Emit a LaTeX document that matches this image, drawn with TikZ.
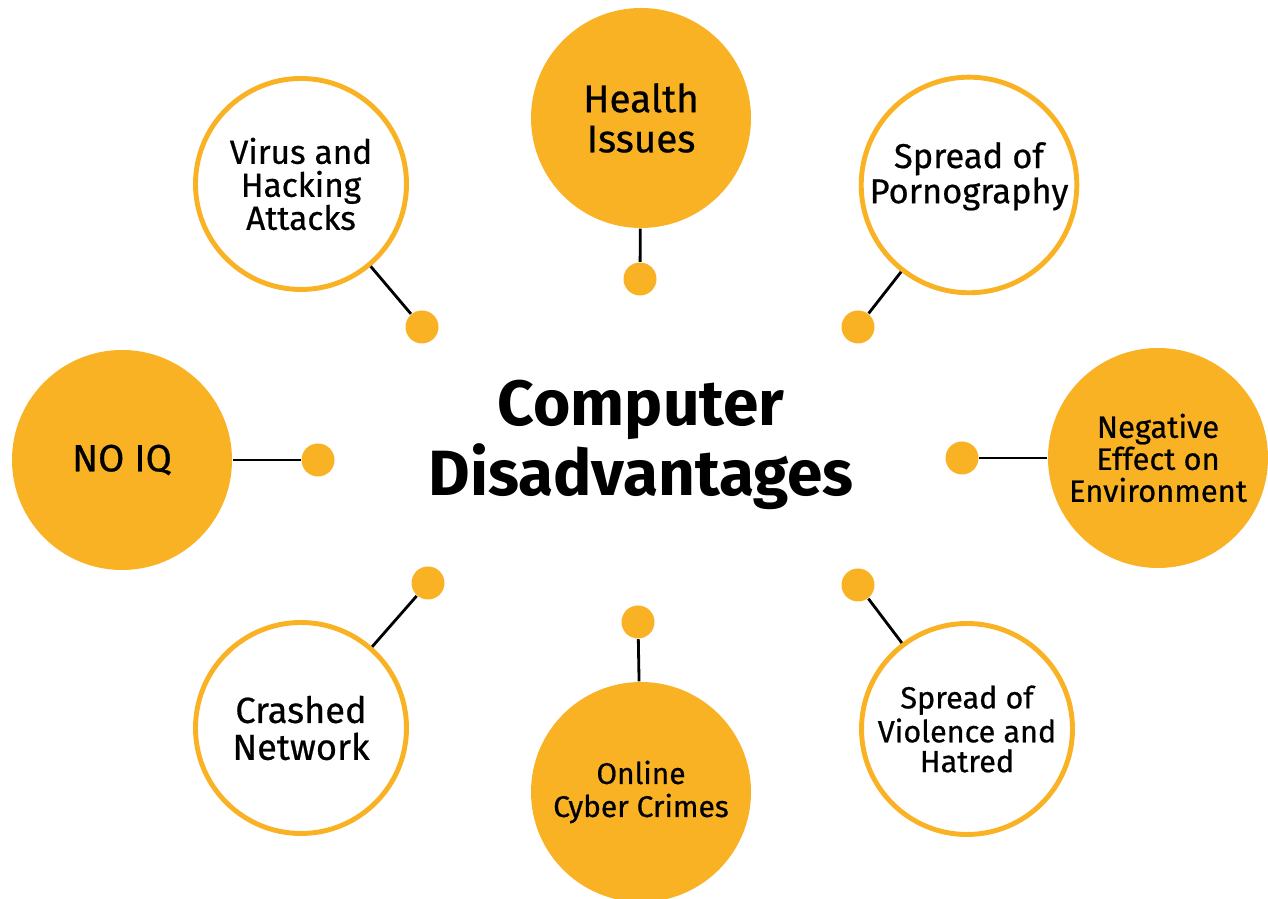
\documentclass[tikz,border=0pt]{standalone}
\usepackage{fontspec}
\setmainfont{Fira Sans}
\newfontfamily\labelfont{Fira Sans}[FakeBold=0.6]
\usetikzlibrary{positioning}
\definecolor{gold}{HTML}{F9B224}
\newcommand{\lbl}[2]{\labelfont\fontsize{#1}{#2}\selectfont}

\begin{document}
\begin{tikzpicture}[
            bubble/.style={circle, fill=gold, minimum size=2.2cm, inner sep=0pt, text centered, align=center},
            ring/.style={circle, draw=gold, line width=1.4pt, fill=white, minimum size=2.11cm, inner sep=0pt, text centered, align=center},
            dot/.style={circle, fill=gold, minimum size=0.33cm, inner sep=0pt},
            link/.style={line width=0.8pt, black}
        ]
            \useasboundingbox (0,0) rectangle (12.68,8.99);

            \node (title) at (6.41,4.54) [align=center, font=\bfseries\fontsize{18.2}{14.2}\selectfont] {Computer\\Disadvantages};

            \node[bubble, font=\lbl{11}{11.4}] (health) at (6.41,7.81) {Health\\Issues};
            \node[ring, font=\lbl{9.5}{9.4}] (virus) at (3.01,7.15) {Virus and\\Hacking\\Attacks};
            \node[ring, font=\lbl{9.8}{10}, text depth=7pt] (porn) at (9.69,7.14) {Spread of\\Pornography};
            \node[bubble, font=\lbl{10.8}{11}] (noiq) at (1.22,4.39) {NO IQ};
            \node[bubble, font=\lbl{8.8}{9.1}] (env) at (11.58,4.41) {Negative\\Effect on\\Environment};
            \node[ring, font=\lbl{10.3}{10.5}] (crash) at (3.01,1.71) {Crashed\\Network};
            \node[bubble, font=\lbl{8.5}{9.4}] (crime) at (6.41,1.07) {Online\\Cyber Crimes};
            \node[ring, font=\lbl{8.7}{8.5}] (violence) at (9.67,1.70) {Spread of\\Violence and\\Hatred};

            \node[dot] (dhealth) at (6.40,6.20) {};
            \node[dot] (dvirus) at (4.22,5.72) {};
            \node[dot] (dporn) at (8.58,5.72) {};
            \node[dot] (dnoiq) at (3.18,4.39) {};
            \node[dot] (denv) at (9.62,4.41) {};
            \node[dot] (dcrash) at (4.28,3.16) {};
            \node[dot] (dcrime) at (6.38,2.77) {};
            \node[dot] (dviolence) at (8.58,3.14) {};

            \draw[link] (health) -- (dhealth);
            \draw[link] (virus) -- (dvirus);
            \draw[link] (porn) -- (dporn);
            \draw[link] (noiq) -- (dnoiq);
            \draw[link] (env) -- (denv);
            \draw[link] (crash) -- (dcrash);
            \draw[link] (crime) -- (dcrime);
            \draw[link] (violence) -- (dviolence);
        \end{tikzpicture}
\end{document}
